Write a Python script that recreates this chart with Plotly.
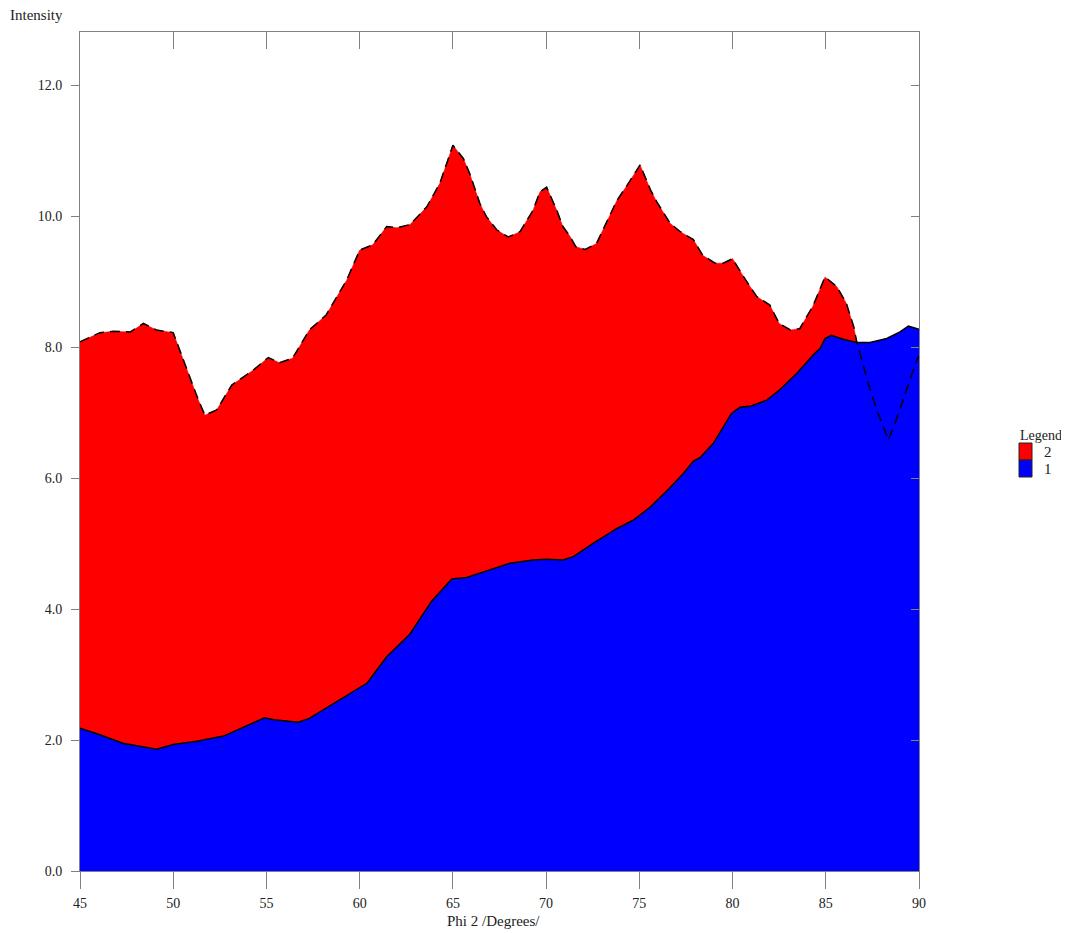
import plotly.graph_objects as go

# Series 2 (upper, red, dashed outline)
x2 = [45.0, 46.07, 46.8, 47.7, 48.4, 49.1, 50.0, 50.36, 50.9, 51.35, 51.7, 52.15, 52.33, 53.14,
      54.3, 55.1, 55.7, 56.4, 57.3, 58.2, 59.3, 60.0, 60.7, 61.45, 62.0, 62.7, 63.6, 64.3,
      65.0, 65.56, 65.9, 66.45, 66.8, 67.35, 67.97, 68.6, 69.3, 69.67, 70.03, 70.57, 70.9,
      71.28, 71.6, 72.1, 72.7, 73.25, 73.8, 74.3, 75.04, 75.6, 75.93, 76.65, 77.2, 77.9,
      78.4, 79.06, 79.5, 80.0, 80.6, 81.3, 82.0, 82.5, 83.1, 83.6, 84.3, 84.96, 85.6, 86.1,
      86.5, 86.66, 86.84, 87.28, 87.8, 88.36, 88.71, 89.34, 89.88, 90.0]
c2 = [8.08, 8.22, 8.24, 8.23, 8.36, 8.26, 8.22, 7.95, 7.55, 7.19, 6.96, 7.01, 7.04, 7.42,
      7.65, 7.84, 7.76, 7.83, 8.26, 8.49, 9.02, 9.48, 9.56, 9.84, 9.82, 9.87, 10.14, 10.50,
      11.08, 10.88, 10.65, 10.19, 9.99, 9.79, 9.68, 9.76, 10.09, 10.37, 10.44, 10.09, 9.84,
      9.69, 9.53, 9.49, 9.58, 9.91, 10.24, 10.45, 10.78, 10.40, 10.22, 9.89, 9.76, 9.64,
      9.40, 9.28, 9.28, 9.35, 9.07, 8.77, 8.64, 8.36, 8.26, 8.28, 8.62, 9.07, 8.92, 8.67,
      8.31, 8.08, 7.90, 7.44, 6.99, 6.58, 6.83, 7.34, 7.80, 7.86]

# Series 1 (lower, blue, solid outline)
x1 = [45.0, 46.07, 47.3, 48.2, 49.1, 50.0, 51.26, 52.7, 53.76, 54.9, 55.4, 56.1, 56.7, 57.3,
      58.6, 59.8, 60.4, 61.45, 62.2, 62.7, 63.86, 64.94, 65.74, 66.8, 68.06, 69.3, 70.03,
      70.9, 71.46, 72.5, 73.8, 74.7, 75.6, 76.6, 77.36, 77.9, 78.25, 78.97, 79.95, 80.4,
      81.0, 81.83, 82.5, 83.45, 84.33, 84.7, 84.96, 85.3, 85.94, 86.66, 87.37, 88.27, 88.98,
      89.43, 90.0]
c1 = [2.18, 2.08, 1.95, 1.90, 1.86, 1.93, 1.98, 2.06, 2.19, 2.34, 2.31, 2.29, 2.27, 2.33,
      2.56, 2.76, 2.87, 3.27, 3.48, 3.62, 4.12, 4.46, 4.48, 4.58, 4.70, 4.75, 4.76,
      4.75, 4.80, 5.00, 5.23, 5.36, 5.56, 5.84, 6.07, 6.26, 6.31, 6.53, 6.99, 7.08,
      7.10, 7.19, 7.34, 7.60, 7.88, 7.98, 8.13, 8.18, 8.12, 8.07, 8.07, 8.13, 8.23,
      8.32, 8.27]

x_ticks = [45, 50, 55, 60, 65, 70, 75, 80, 85, 90]
y_ticks = [0, 2, 4, 6, 8, 10, 12]
y_tick_text = ["0.0", "2.0", "4.0", "6.0", "8.0", "10.0", "12.0"]
legend_names = ["2", "1"]
legend_colors = ["#FF0000", "#0000FF"]

X_RANGE = [45, 90]
Y_RANGE = [0, 12.81]
FONT = "Liberation Serif"
AXC = "#808080"
TXT = "#222222"

fig = go.Figure()
fig.add_trace(go.Scatter(x=x2, y=c2, mode="lines", fill="tozeroy", fillcolor="#FF0000",
                         line=dict(color="#FF0000", width=0.5), hoverinfo="skip", showlegend=False))
fig.add_trace(go.Scatter(x=x1, y=c1, mode="lines", fill="tozeroy", fillcolor="#0000FF",
                         line=dict(color="black", width=1.5), hoverinfo="skip", showlegend=False))
fig.add_trace(go.Scatter(x=x2, y=c2, mode="lines",
                         line=dict(color="black", width=1.5, dash="10px,6px"),
                         hoverinfo="skip", showlegend=False))
# invisible trace to activate mirrored axes with inside ticks
fig.add_trace(go.Scatter(x=x1, y=c1, mode="lines", xaxis="x2", yaxis="y2",
                         line=dict(color="rgba(0,0,0,0)"), hoverinfo="skip", showlegend=False))

tickfont = dict(family=FONT, size=14, color=TXT)
fig.update_layout(
    width=1061, height=925,
    margin=dict(l=72, r=150, t=24, b=62),
    paper_bgcolor="white", plot_bgcolor="white",
    showlegend=False,
    font=dict(family=FONT, size=14, color=TXT),
    xaxis=dict(range=X_RANGE, tickvals=x_ticks, ticktext=[str(v) for v in x_ticks],
               ticks="outside", ticklen=17, tickcolor=AXC, tickwidth=1, ticklabelstandoff=2,
               showline=True, linecolor=AXC, linewidth=1, showgrid=False, zeroline=False,
               tickfont=tickfont),
    yaxis=dict(range=Y_RANGE, tickvals=y_ticks, ticktext=y_tick_text,
               ticks="outside", ticklen=8, tickcolor=AXC, tickwidth=1, ticklabelstandoff=6,
               showline=True, linecolor=AXC, linewidth=1, showgrid=False, zeroline=False,
               tickfont=tickfont),
    xaxis2=dict(range=X_RANGE, overlaying="x", side="top", anchor="y2", tickvals=x_ticks,
                ticks="inside", ticklen=17, tickcolor=AXC, showticklabels=False,
                showline=True, linecolor=AXC, linewidth=1, showgrid=False, zeroline=False),
    yaxis2=dict(range=Y_RANGE, overlaying="y", side="right", anchor="x2", tickvals=y_ticks,
                ticks="inside", ticklen=8, tickcolor=AXC, showticklabels=False,
                showline=True, linecolor=AXC, linewidth=1, showgrid=False, zeroline=False),
)

# page-pixel -> paper coordinates (plot area spans page x 80..919, y 32..871)
def px_x(p):
    return (p - 80) / 839.0

def px_y(p):
    return (871 - p) / 839.0

annotations = [
    dict(text="Intensity", x=px_x(8), y=px_y(15), xref="paper", yref="paper",
         xanchor="left", yanchor="middle", showarrow=False, font=dict(family=FONT, size=15, color=TXT)),
    dict(text="Phi 2 /Degrees/", x=px_x(493), y=px_y(921), xref="paper", yref="paper",
         xanchor="center", yanchor="middle", showarrow=False, font=dict(family=FONT, size=15, color=TXT)),
    dict(text="Legend", x=px_x(1018), y=px_y(436), xref="paper", yref="paper",
         xanchor="left", yanchor="middle", showarrow=False, font=dict(family=FONT, size=14, color=TXT)),
]
shapes = []
box_top = 443
box_h = 17
for i, (name, col) in enumerate(zip(legend_names, legend_colors)):
    t = box_top + i * box_h
    shapes.append(dict(type="rect", xref="paper", yref="paper",
                       x0=px_x(1019), x1=px_x(1032), y0=px_y(t + box_h), y1=px_y(t),
                       fillcolor=col, line=dict(color=TXT, width=1)))
    annotations.append(dict(text=name, x=px_x(1048), y=px_y(t + box_h / 2), xref="paper", yref="paper",
                            xanchor="center", yanchor="middle", showarrow=False,
                            font=dict(family=FONT, size=15, color=TXT)))

fig.update_layout(annotations=annotations, shapes=shapes)
fig.write_html("out.html")
